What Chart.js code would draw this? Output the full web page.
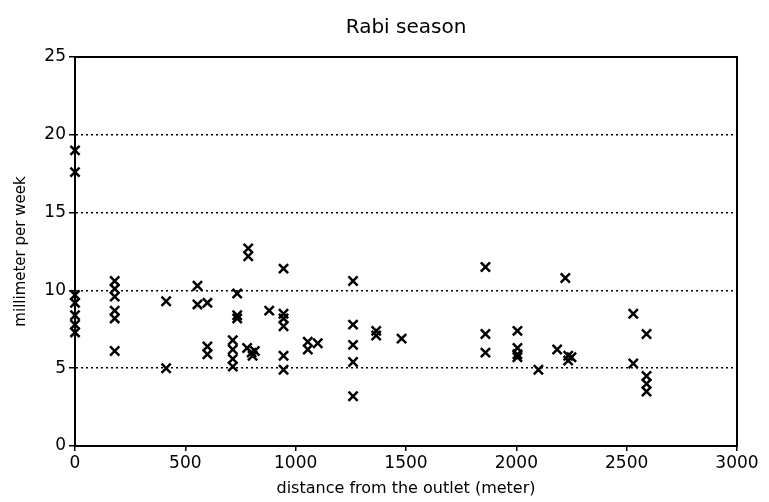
<!DOCTYPE html>
<html>
<head>
<meta charset="utf-8">
<script src="https://cdn.jsdelivr.net/npm/chart.js@4/dist/chart.umd.min.js"></script>
<style>
html,body{margin:0;padding:0;background:#fff;}
#wrap{width:769px;height:502px;position:relative;}
</style>
</head>
<body>
<div id="wrap"><canvas id="c" width="769" height="502"></canvas></div>
<script>
const chartTitle = "Rabi season";
const xAxisTitle = "distance from the outlet (meter)";
const yAxisTitle = "millimeter per week";
const distance = [0,0,0,0,0,0,0,
  180,180,180,180,180,180,
  413,413,
  555,555,
  600,600,600,
  715,715,715,715,
  735,735,735,
  785,785,
  780,800,805,815,
  880,
  945,945,945,945,945,945,
  1055,1055,
  1100,
  1260,1260,1260,1260,1260,
  1365,1365,
  1480,
  1860,1860,1860,
  2005,2005,2005,2005,
  2100,
  2185,
  2222,
  2235,2235,2250,
  2530,2530,
  2590,2590,2590,2590];
const mmPerWeek = [19.0,17.6,9.7,9.2,8.4,7.8,7.3,
  10.6,10.1,9.6,8.7,8.2,6.1,
  9.3,5.0,
  10.3,9.1,
  9.2,6.4,5.9,
  6.8,6.2,5.6,5.1,
  9.8,8.4,8.2,
  12.7,12.2,
  6.3,6.0,5.8,6.1,
  8.7,
  11.4,8.5,8.2,7.7,5.8,4.9,
  6.7,6.2,
  6.6,
  10.6,7.8,6.5,5.4,3.2,
  7.4,7.1,
  6.9,
  11.5,7.2,6.0,
  7.4,6.3,5.9,5.7,
  4.9,
  6.2,
  10.8,
  5.8,5.5,5.7,
  8.5,5.3,
  7.2,4.5,4.0,3.5];
const xTicks = [0,500,1000,1500,2000,2500,3000];
const yTicks = [0,5,10,15,20,25];

const points = distance.map((d,i)=>({x:d,y:mmPerWeek[i]}));
const FONT = "'DejaVu Sans', sans-serif";

const frame = {
  id:'frame',
  beforeDatasetsDraw(chart){
    const a = chart.chartArea, ctx = chart.ctx;
    ctx.save();
    ctx.strokeStyle='#000';
    ctx.lineWidth=2;
    ctx.setLineDash([]);
    ctx.strokeRect(a.left,a.top,a.right-a.left,a.bottom-a.top);
    ctx.restore();
  },
  afterDraw(chart){
    const a = chart.chartArea, ctx = chart.ctx;
    ctx.save();
    ctx.fillStyle='#000';
    ctx.font = "20px " + FONT;
    ctx.textAlign='center';
    ctx.textBaseline='middle';
    ctx.fillText(chartTitle,(a.left+a.right)/2,28);
    ctx.restore();
  }
};

new Chart(document.getElementById('c'),{
  type:'scatter',
  data:{datasets:[{
    data:points,
    pointStyle:'crossRot',
    pointRadius:6.5,
    pointBorderWidth:2.5,
    borderColor:'#000',
    backgroundColor:'#000',
    clip:false
  }]},
  options:{
    responsive:false,
    animation:false,
    devicePixelRatio:1,
    layout:{padding:{top:2,right:32,left:0,bottom:0}},
    plugins:{
      legend:{display:false},
      tooltip:{enabled:false},
      title:{display:true,text:chartTitle,color:'rgba(0,0,0,0)',
        font:{family:FONT,size:20,weight:'normal'},
        padding:{top:15,bottom:16}}
    },
    scales:{
      x:{
        type:'linear',min:0,max:3000,
        afterBuildTicks(s){s.ticks=xTicks.map(v=>({value:v}));},
        afterFit(s){s.height=56;},
        ticks:{color:'#000',font:{family:FONT,size:17},padding:2,maxRotation:0,callback:v=>String(v)},
        grid:{drawOnChartArea:false,color:'#000',tickLength:5,lineWidth:1.5},
        border:{display:true,color:'#000',width:2},
        title:{display:true,text:xAxisTitle,color:'#000',font:{family:FONT,size:16},padding:{top:0,bottom:4}}
      },
      y:{
        type:'linear',min:0,max:25,
        afterBuildTicks(s){s.ticks=yTicks.map(v=>({value:v}));},
        afterFit(s){s.width=75;},
        ticks:{color:'#000',font:{family:FONT,size:17},padding:3,callback:v=>String(v)},
        grid:{color:'#000',lineWidth:1.5,tickBorderDash:[],tickLength:6},
        border:{display:true,color:'#000',width:2,dash:[2,3]},
        title:{display:true,text:yAxisTitle,color:'#000',font:{family:FONT,size:15},padding:{top:12,bottom:6}}
      }
    }
  },
  plugins:[frame]
});
</script>
</body>
</html>
